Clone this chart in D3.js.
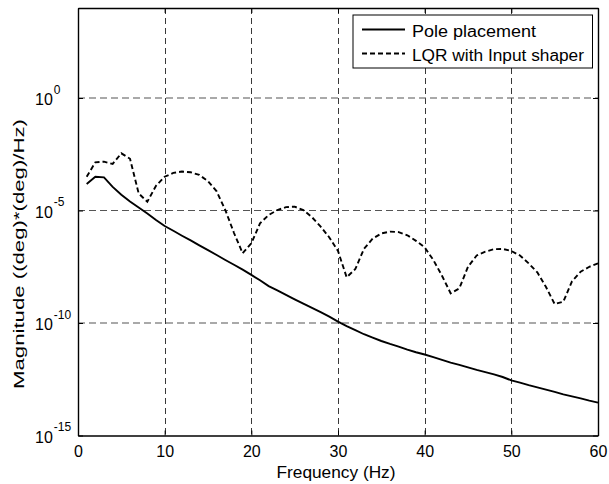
<!DOCTYPE html>
<html><head><meta charset="utf-8">
<script src="https://cdn.jsdelivr.net/npm/d3@7"></script>
<style>body{margin:0;background:#fff} text{font-family:"Liberation Sans",Arial,Helvetica,sans-serif;}</style>
</head><body><svg id="c" width="609" height="484"></svg>
<script>
// ---- data ----
const freqHz = [1,2,3,4,5,6,7,8,9,10,11,12,13,14,15,16,17,18,19,20,21,22,23,24,25,26,27,28,29,30,31,32,33,34,35,36,37,38,39,40,41,42,43,44,45,46,47,48,49,50,51,52,53,54,55,56,57,58,59,60];
// log10 of magnitude
const poleLog10 = [-3.82,-3.50,-3.53,-3.95,-4.30,-4.60,-4.87,-5.13,-5.42,-5.69,-5.90,-6.12,-6.33,-6.55,-6.76,-6.98,-7.20,-7.41,-7.63,-7.86,-8.10,-8.36,-8.55,-8.75,-8.95,-9.14,-9.33,-9.52,-9.72,-9.94,-10.14,-10.32,-10.50,-10.65,-10.80,-10.93,-11.05,-11.18,-11.30,-11.40,-11.52,-11.64,-11.76,-11.86,-11.97,-12.08,-12.18,-12.28,-12.40,-12.55,-12.65,-12.76,-12.86,-12.96,-13.06,-13.17,-13.26,-13.35,-13.45,-13.54];
const lqrLog10 = [-3.50,-2.86,-2.83,-2.93,-2.46,-2.70,-4.24,-4.61,-3.90,-3.50,-3.33,-3.27,-3.30,-3.42,-3.70,-4.15,-4.98,-6.00,-6.90,-6.46,-5.57,-5.20,-4.98,-4.85,-4.83,-4.98,-5.30,-5.72,-6.20,-6.80,-7.97,-7.60,-6.70,-6.25,-6.02,-5.94,-5.96,-6.10,-6.35,-6.64,-7.20,-7.90,-8.68,-8.46,-7.50,-7.00,-6.83,-6.72,-6.71,-6.80,-7.00,-7.35,-7.75,-8.40,-9.16,-9.05,-8.15,-7.72,-7.50,-7.35];
const seriesNames = ["Pole placement","LQR with Input shaper"];
const xTicks = [0,10,20,30,40,50,60];
const yTickExps = [0,-5,-10,-15];
const xLabel = "Frequency (Hz)";
const yLabel = "Magnitude ((deg)*(deg)/Hz)";

// ---- layout ----
const L=78, R=598, T=8, B=435.5;
const FS = 16;
const svg = d3.select("#c");
const x = d3.scaleLinear().domain([0,60]).range([L,R]);
const y = d3.scaleLog().domain([1e-15,1e4]).range([B,T]);
const yTickVals = yTickExps.map(e => Math.pow(10,e));

// grid
const grid = svg.append("g");
grid.selectAll("line.v").data(xTicks.slice(1,-1)).join("line")
  .attr("x1",d=>Math.round(x(d))+0.5).attr("x2",d=>Math.round(x(d))+0.5)
  .attr("y1",T).attr("y2",B)
  .attr("stroke","#222").attr("stroke-width",0.9).attr("stroke-dasharray","6,4");
grid.selectAll("line.h").data(yTickVals.filter(v=>v>1e-15)).join("line")
  .attr("x1",L).attr("x2",R)
  .attr("y1",d=>y(d)).attr("y2",d=>y(d))
  .attr("stroke","#555").attr("stroke-width",1.1).attr("stroke-dasharray","7,4");

// series
const polePts = freqHz.map((f,i)=>[f, Math.pow(10,poleLog10[i])]);
const lqrPts = freqHz.map((f,i)=>[f, Math.pow(10,lqrLog10[i])]);
const line = d3.line().x(d=>x(d[0])).y(d=>y(d[1]));
svg.append("path").attr("d",line(lqrPts)).attr("fill","none")
  .attr("stroke","#000").attr("stroke-width",1.9).attr("stroke-dasharray","5,3");
svg.append("path").attr("d",line(polePts)).attr("fill","none")
  .attr("stroke","#000").attr("stroke-width",1.9);

// axes
const ax = (g)=>g.call(s=>s.select(".domain").attr("stroke","#000").attr("stroke-width",1.4))
  .call(s=>s.selectAll(".tick line").attr("stroke","#000"));
svg.append("g").attr("transform",`translate(0,${B})`)
  .call(d3.axisBottom(x).tickValues(xTicks).tickSizeInner(-5).tickSizeOuter(0).tickPadding(10))
  .call(ax)
  .call(g=>g.selectAll("text").attr("font-size",FS).attr("fill","#000").attr("font-family",null));
svg.append("g").attr("transform",`translate(0,${T})`)
  .call(d3.axisTop(x).tickValues(xTicks).tickSizeInner(-5).tickSizeOuter(0).tickFormat(""))
  .call(ax);
svg.append("g").attr("transform",`translate(${L},0)`)
  .call(d3.axisLeft(y).tickValues(yTickVals).tickSizeInner(-5).tickSizeOuter(0).tickFormat(""))
  .call(ax);
svg.append("g").attr("transform",`translate(${R},0)`)
  .call(d3.axisRight(y).tickValues(yTickVals).tickSizeInner(-5).tickSizeOuter(0).tickFormat(""))
  .call(ax);

// y tick labels with superscripts
const yl = svg.append("g");
yTickExps.forEach(e=>{
  const yy = y(Math.pow(10,e));
  const t = yl.append("text").attr("x",35).attr("y",yy+7).attr("font-size",FS).attr("fill","#000");
  t.append("tspan").text("10");
  t.append("tspan").attr("dx",1).attr("dy",-11.5).attr("font-size",12).text(String(e));
});

// axis labels
svg.append("text").attr("x",336).attr("y",478).attr("text-anchor","middle")
  .attr("font-size",FS).attr("textLength",119).attr("lengthAdjust","spacingAndGlyphs").text(xLabel);
svg.append("text").attr("transform","translate(24,254) rotate(-90)").attr("text-anchor","middle")
  .attr("font-size",15).attr("textLength",270).attr("lengthAdjust","spacingAndGlyphs").text(yLabel);

// legend
const lg = svg.append("g");
lg.append("rect").attr("x",353).attr("y",15).attr("width",239.5).attr("height",53)
  .attr("fill","#fff").attr("stroke","#000").attr("stroke-width",1);
const dashes = [null,"5,3"];
const legendLen = [124,172];
seriesNames.forEach((n,i)=>{
  const yy = 29.5 + i*24;
  lg.append("line").attr("x1",362).attr("x2",405).attr("y1",yy).attr("y2",yy)
    .attr("stroke","#000").attr("stroke-width",1.9).attr("stroke-dasharray",dashes[i]);
  lg.append("text").attr("x",412).attr("y",yy+7).attr("font-size",FS)
    .attr("textLength",legendLen[i]).attr("lengthAdjust","spacingAndGlyphs").text(n);
});
</script></body></html>
